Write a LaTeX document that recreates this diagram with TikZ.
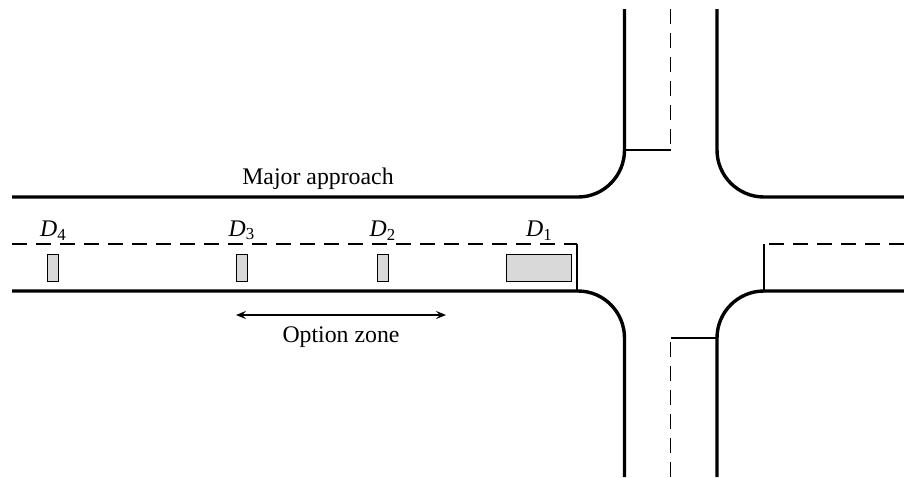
\documentclass[tikz,border=0pt]{standalone}
\usepackage{fontspec}
\setmainfont{Liberation Serif}
\usetikzlibrary{arrows.meta,positioning}
\newcommand{\detector}[1]{\textit{D}\raisebox{-0.35ex}{\fontsize{8.4}{10}\selectfont #1}}

\begin{document}
\begin{tikzpicture}[x=0.5pt,y=-0.5pt,font=\fontsize{11.9}{14}\selectfont,
        curb/.style={line width=1.7pt},
        lane/.style={line width=0.6pt},
        centerline/.style={line width=0.6pt,dash pattern=on 7.5pt off 4.5pt},
        vehicle/.style={draw=black,fill=black!15,line width=0.5pt,inner sep=0pt,
          minimum width=5.5pt,minimum height=13.5pt}]
      \useasboundingbox (0,0) rectangle (904,477);
      \draw[curb] (12,197) -- (578,197) arc (90:0:46.5 and 47) -- (624.5,9);
      \draw[curb] (717,9) -- (717,150) arc (180:90:47) -- (904,197);
      \draw[curb] (12,291) -- (578,291) arc (-90:0:46.5 and 47) -- (624.5,477);
      \draw[curb] (717,477) -- (717,338) arc (180:270:47) -- (904,291);
      \draw[centerline] (12,244) -- (577,244);
      \draw[lane] (577,244) -- (577,291);
      \draw[centerline] (904,244) -- (764,244);
      \draw[lane] (764,244) -- (764,291);
      \draw[centerline] (670.5,9) -- (670.5,150);
      \draw[lane] (670.5,150) -- (624.5,150);
      \draw[centerline] (670.5,477) -- (670.5,338);
      \draw[lane] (670.5,338) -- (717,338);
      \foreach \x/\w/\i in {53/5.5/4,241.5/5.5/3,382.5/5.5/2,539/32.75/1}
      {
        \node (car\i) [vehicle,minimum width=\w pt] at (\x,267.5) {};
        \node (label\i) [above=5.5pt of car\i,inner sep=1pt] {\detector{\i}};
      }
      \node (major) at (318,179) {Major approach};
      \coordinate (zonestart) at (236,315);
      \coordinate (zoneend) at (446,315);
      \draw[lane,{Stealth[length=5pt,width=4pt,inset=2pt]}-{Stealth[length=5pt,width=4pt,inset=2pt]}] (zonestart) -- (zoneend);
      \node (zone) at (341,337) {Option zone};
    \end{tikzpicture}
\end{document}
